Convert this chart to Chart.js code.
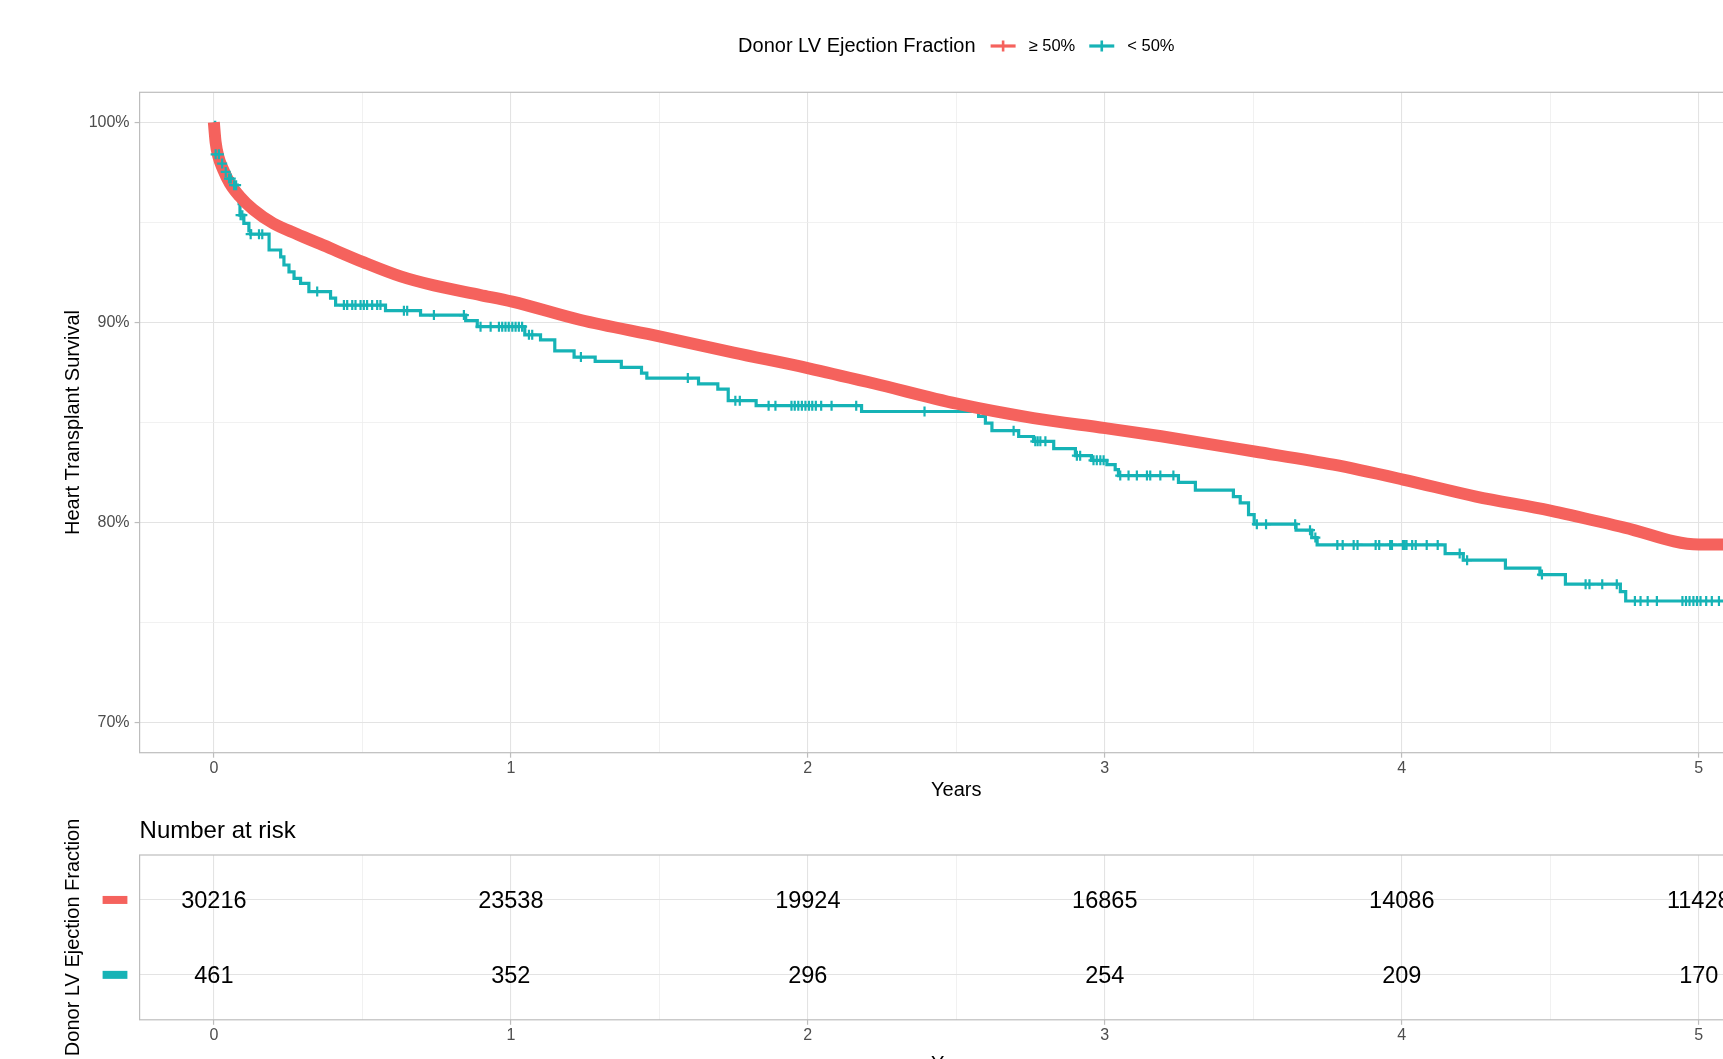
<!DOCTYPE html>
<html>
<head>
<meta charset="utf-8">
<script src="https://cdn.jsdelivr.net/npm/chart.js@4.4.1/dist/chart.umd.min.js"></script>
<style>
html, body { margin: 0; padding: 0; background: #ffffff; width: 1723px; height: 1059px; overflow: hidden; }
#wrapA { position: absolute; left: 0; top: 0; width: 1800px; height: 810px; }
#wrapB { position: absolute; left: 0; top: 800px; width: 1800px; height: 300px; }
canvas { display: block; }
</style>
</head>
<body>
<div id="wrapA"><canvas id="km" width="1800" height="810"></canvas></div>
<div id="wrapB"><canvas id="risk" width="1800" height="300"></canvas></div>
<script>
// ---------------- data ----------------
const legendTitle = 'Donor LV Ejection Fraction';
const seriesNames = ['\u2265 50%', '< 50%'];

// Kaplan-Meier estimate, EF >= 50% (years, survival %)
const highTimes = [0, 0.006, 0.015, 0.031, 0.054, 0.087, 0.132, 0.2, 0.279, 0.37, 0.505, 0.629, 0.741, 0.898, 1.005, 1.235, 1.504, 1.75, 2.003, 2.22, 2.502, 2.76, 3.002, 3.19, 3.504, 3.77, 4.004, 4.25, 4.5, 4.75, 5.0, 5.25];
const highSurv  = [100, 99.0, 98.3, 97.65, 96.95, 96.3, 95.65, 94.95, 94.42, 93.85, 93.0, 92.3, 91.85, 91.37, 91.04, 90.12, 89.29, 88.49, 87.71, 86.96, 85.94, 85.22, 84.72, 84.31, 83.55, 82.89, 82.15, 81.3, 80.6, 79.75, 78.9, 78.9];

// Kaplan-Meier estimate, EF < 50% (step times, survival % after the step)
const lowTimes = [0, 0.003, 0.023, 0.034, 0.045, 0.062, 0.079, 0.085, 0.088, 0.101, 0.118, 0.124, 0.186, 0.225, 0.236, 0.253, 0.270, 0.292, 0.320, 0.393, 0.410, 0.578, 0.696, 0.848, 0.887, 1.047, 1.100, 1.148, 1.213, 1.284, 1.372, 1.440, 1.458, 1.632, 1.697, 1.732, 1.826, 2.181, 2.575, 2.598, 2.620, 2.710, 2.760, 2.828, 2.901, 2.955, 3.007, 3.035, 3.046, 3.248, 3.305, 3.433, 3.456, 3.484, 3.503, 3.644, 3.697, 3.715, 4.146, 4.207, 4.349, 4.465, 4.551, 4.736, 4.754, 5.25];
const lowSurv  = [100, 98.4, 97.94, 97.52, 97.19, 96.86, 96.61, 95.94, 95.36, 94.95, 94.58, 94.41, 93.62, 93.28, 92.87, 92.53, 92.20, 91.95, 91.54, 91.21, 90.87, 90.59, 90.37, 90.09, 89.79, 89.38, 89.13, 88.58, 88.27, 88.05, 87.75, 87.47, 87.22, 86.93, 86.67, 86.09, 85.84, 85.55, 85.30, 84.97, 84.59, 84.30, 84.06, 83.69, 83.34, 83.11, 82.90, 82.65, 82.35, 82.01, 81.62, 81.30, 80.98, 80.40, 79.92, 79.62, 79.25, 78.88, 78.45, 78.12, 77.72, 77.40, 76.92, 76.55, 76.08, 76.08];

// censoring marks of the EF < 50% group (years)
const lowCensorTimes = [0.006, 0.017, 0.028, 0.040, 0.051, 0.057, 0.068, 0.075, 0.090, 0.096, 0.124, 0.152, 0.163, 0.348, 0.438, 0.449, 0.466, 0.477, 0.494, 0.505, 0.516, 0.533, 0.550, 0.561, 0.640, 0.651, 0.741, 0.842, 0.898, 0.932, 0.960, 0.971, 0.982, 0.993, 1.005, 1.016, 1.027, 1.038, 1.061, 1.072, 1.236, 1.596, 1.756, 1.771, 1.868, 1.891, 1.945, 1.956, 1.968, 1.980, 1.992, 2.004, 2.015, 2.027, 2.045, 2.080, 2.163, 2.393, 2.693, 2.766, 2.774, 2.783, 2.800, 2.906, 2.917, 2.962, 2.973, 2.985, 2.996, 3.052, 3.080, 3.108, 3.142, 3.153, 3.187, 3.231, 3.512, 3.543, 3.641, 3.691, 3.709, 3.783, 3.801, 3.838, 3.851, 3.912, 3.924, 3.961, 3.967, 4.004, 4.010, 4.016, 4.035, 4.047, 4.084, 4.121, 4.195, 4.220, 4.472, 4.619, 4.632, 4.675, 4.724, 4.785, 4.804, 4.828, 4.859, 4.945, 4.957, 4.969, 4.982, 4.994, 5.006, 5.025, 5.044, 5.068];

// axes
const xGridValues = [0, 0.5, 1, 1.5, 2, 2.5, 3, 3.5, 4, 4.5, 5];
const xTickLabels = ['0', '1', '2', '3', '4', '5'];
const yGridValues = [70, 75, 80, 85, 90, 95, 100];
const yTickLabels = ['70%', '80%', '90%', '100%'];

// number at risk table
const riskTimes = [0, 1, 2, 3, 4, 5];
const riskHigh = [30216, 23538, 19924, 16865, 14086, 11428];
const riskLow = [461, 352, 296, 254, 209, 170];
const riskRows = [2, 1];

// ---------------- style ----------------
const RED = '#F5625D';
const TEAL = '#16B3B6';
const GRID_MAJOR = '#E3E3E3';
const GRID_MINOR = '#EEEEEE';
const BORDER = '#BDBDBD';
const TICKTXT = '#4D4D4D';
const FONT = "'Liberation Sans', Arial, Helvetica, sans-serif";
Chart.defaults.font.family = FONT;

function stepValue(times, surv, t) {
  let v = surv[0];
  for (let i = 0; i < times.length; i++) { if (times[i] <= t + 1e-12) v = surv[i]; else break; }
  return v;
}
const isMajorX = v => Math.abs(v - Math.round(v)) < 1e-9;
const isMajorY = v => Math.round(v) % 10 === 0;

function xScaleCfg(titlePadBottom) {
  return {
    type: 'linear', min: -0.25, max: 5.25, position: 'bottom',
    afterBuildTicks: s => { s.ticks = xGridValues.map(v => ({ value: v })); },
    ticks: {
      autoSkip: false, maxRotation: 0, color: TICKTXT, font: { size: 16 }, padding: 1,
      callback: v => isMajorX(v) ? xTickLabels[Math.round(v)] : ''
    },
    grid: {
      color: c => (c.tick && isMajorX(c.tick.value)) ? GRID_MAJOR : GRID_MINOR,
      lineWidth: c => (c.tick && isMajorX(c.tick.value)) ? 1.1 : 0.8,
      tickLength: 5,
      tickColor: c => (c.tick && isMajorX(c.tick.value)) ? BORDER : 'rgba(0,0,0,0)',
      tickWidth: 1.2
    },
    border: { display: false },
    title: { display: true, text: 'Years', color: '#000', font: { size: 20 }, padding: { top: 0, bottom: titlePadBottom } }
  };
}

const panelBorder = {
  id: 'panelBorder',
  afterDraw(chart) {
    const { ctx, chartArea: a } = chart;
    ctx.save();
    ctx.strokeStyle = BORDER;
    ctx.lineWidth = 1.2;
    ctx.strokeRect(a.left, a.top, a.right - a.left, a.bottom - a.top);
    ctx.restore();
  }
};

const ggLegend = {
  id: 'ggLegend',
  afterDraw(chart) {
    const ctx = chart.ctx;
    const a = chart.chartArea;
    const cy = 46;
    ctx.save();
    ctx.textBaseline = 'middle';
    ctx.textAlign = 'left';
    ctx.font = '20px ' + FONT;
    const wT = ctx.measureText(legendTitle).width;
    ctx.font = '16.5px ' + FONT;
    const w1 = ctx.measureText(seriesNames[0]).width;
    const w2 = ctx.measureText(seriesNames[1]).width;
    const keyW = 25, g1 = 15, g2 = 13, g3 = 14;
    const total = wT + g1 + keyW + g2 + w1 + g3 + keyW + g2 + w2;
    let x = (a.left + a.right) / 2 - total / 2;
    ctx.fillStyle = '#000';
    ctx.font = '20px ' + FONT;
    ctx.fillText(legendTitle, x, cy);
    x += wT + g1;
    const drawKey = (kx, col) => {
      ctx.strokeStyle = col;
      ctx.lineWidth = 3.2;
      ctx.beginPath(); ctx.moveTo(kx, cy); ctx.lineTo(kx + keyW, cy); ctx.stroke();
      ctx.lineWidth = 2.6;
      ctx.beginPath(); ctx.moveTo(kx + keyW / 2, cy - 5.5); ctx.lineTo(kx + keyW / 2, cy + 5.5); ctx.stroke();
    };
    drawKey(x, RED);
    x += keyW + g2;
    ctx.font = '16.5px ' + FONT;
    ctx.fillStyle = '#000';
    ctx.fillText(seriesNames[0], x, cy);
    x += w1 + g3;
    drawKey(x, TEAL);
    x += keyW + g2;
    ctx.fillStyle = '#000';
    ctx.fillText(seriesNames[1], x, cy);
    ctx.restore();
  }
};

// ---------------- survival chart ----------------
new Chart(document.getElementById('km'), {
  type: 'line',
  data: {
    datasets: [
      {
        label: seriesNames[1] + ' censored',
        data: lowCensorTimes.map(t => ({ x: t, y: stepValue(lowTimes, lowSurv, t) })),
        showLine: false, pointStyle: 'cross', pointRadius: 5, pointBorderWidth: 2.2,
        pointBorderColor: TEAL, borderColor: TEAL, backgroundColor: TEAL, order: 0
      },
      {
        label: seriesNames[0],
        data: highTimes.map((t, i) => ({ x: t, y: highSurv[i] })),
        borderColor: RED, borderWidth: 12, pointRadius: 0, fill: false,
        cubicInterpolationMode: 'monotone',
        borderJoinStyle: 'round', borderCapStyle: 'butt', order: 1
      },
      {
        label: seriesNames[1],
        data: lowTimes.map((t, i) => ({ x: t, y: lowSurv[i] })),
        stepped: 'before', borderColor: TEAL, borderWidth: 3.2, pointRadius: 0, fill: false, order: 2
      }
    ]
  },
  options: {
    responsive: false, animation: false, devicePixelRatio: 1,
    layout: { padding: { left: 0, top: 92.3, right: 27, bottom: 7.3 } },
    plugins: { legend: { display: false }, tooltip: { enabled: false } },
    scales: {
      x: Object.assign(xScaleCfg(0.7), { afterFit: s => { s.height = 50; } }),
      y: {
        type: 'linear', min: 68.5, max: 101.5,
        afterBuildTicks: s => { s.ticks = yGridValues.map(v => ({ value: v })); },
        afterFit: s => { s.width = 139.6; },
        ticks: {
          color: TICKTXT, font: { size: 16 }, padding: 5,
          callback: v => isMajorY(v) ? yTickLabels[(Math.round(v) - 70) / 10] : ''
        },
        grid: {
          color: c => (c.tick && isMajorY(c.tick.value)) ? GRID_MAJOR : GRID_MINOR,
          lineWidth: c => (c.tick && isMajorY(c.tick.value)) ? 1.1 : 0.8,
          tickLength: 5,
          tickColor: c => (c.tick && isMajorY(c.tick.value)) ? BORDER : 'rgba(0,0,0,0)',
          tickWidth: 1.2
        },
        border: { display: false },
        title: { display: true, text: 'Heart Transplant Survival', color: '#000', font: { size: 20 }, padding: { top: 61, bottom: 0 } }
      }
    }
  },
  plugins: [panelBorder, ggLegend]
});

// ---------------- risk table ----------------
const riskPlugin = {
  id: 'riskText',
  afterDraw(chart) {
    const { ctx, chartArea: a } = chart;
    const yS = chart.scales.y;
    ctx.save();
    ctx.fillStyle = '#000';
    ctx.font = '24px ' + FONT;
    ctx.textAlign = 'left';
    ctx.textBaseline = 'middle';
    ctx.fillText('Number at risk', a.left, 31.3);
    ctx.font = '23.5px ' + FONT;
    ctx.textAlign = 'center';
    chart.data.datasets.forEach((ds, di) => {
      const meta = chart.getDatasetMeta(di);
      meta.data.forEach((el, i) => {
        ctx.fillStyle = '#000';
        ctx.fillText(String(ds.data[i].v), el.x, el.y + 1.5);
      });
      const yy = yS.getPixelForValue(riskRows[di]);
      ctx.fillStyle = ds.borderColor;
      ctx.fillRect(102.6, yy - 4, 24.8, 8);
    });
    ctx.restore();
  }
};

new Chart(document.getElementById('risk'), {
  type: 'line',
  data: {
    datasets: [
      { label: seriesNames[0], data: riskTimes.map((t, i) => ({ x: t, y: riskRows[0], v: riskHigh[i] })), showLine: false, pointRadius: 0, borderColor: RED },
      { label: seriesNames[1], data: riskTimes.map((t, i) => ({ x: t, y: riskRows[1], v: riskLow[i] })), showLine: false, pointRadius: 0, borderColor: TEAL }
    ]
  },
  options: {
    responsive: false, animation: false, devicePixelRatio: 1,
    layout: { padding: { left: 0, top: 55, right: 27, bottom: 20.2 } },
    plugins: { legend: { display: false }, tooltip: { enabled: false } },
    scales: {
      x: Object.assign(xScaleCfg(3.8), { afterFit: s => { s.height = 60; } }),
      y: {
        type: 'linear', min: 0.4, max: 2.6,
        afterBuildTicks: s => { s.ticks = riskRows.map(v => ({ value: v })); },
        afterFit: s => { s.width = 139.6; },
        ticks: { display: false },
        grid: { color: GRID_MAJOR, lineWidth: 1.1, drawTicks: false },
        border: { display: false },
        title: { display: true, text: legendTitle, color: '#000', font: { size: 20 }, padding: { top: 61, bottom: 0 } }
      }
    }
  },
  plugins: [panelBorder, riskPlugin]
});
</script>
</body>
</html>
